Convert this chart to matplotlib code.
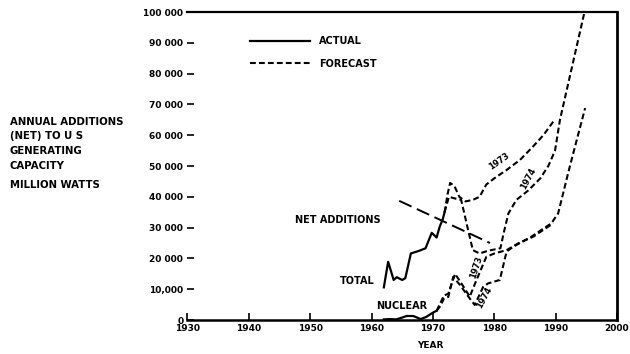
import matplotlib
matplotlib.use("Agg")
from matplotlib import pyplot as plt

# annual net additions, thousands of MW
actual_years = [1962.0, 1962.7, 1963.6, 1964.1, 1965.0, 1965.5, 1966.4, 1967.8, 1968.8,
                1969.8, 1970.6, 1971.1, 1971.6, 1971.9]
actual_total = [10.6, 18.9, 13.0, 13.9, 13.0, 13.6, 21.6, 22.5, 23.3,
                28.3, 26.8, 30.3, 32.7, 35.0]

nuc_years = [1962.0, 1963.0, 1964.0, 1965.0, 1965.7, 1966.8, 1968.0, 1968.9, 1970.0, 1970.6]
nuc_actual = [0.2, 0.3, 0.2, 0.8, 1.3, 1.3, 0.3, 1.0, 2.4, 3.0]

f73_years = [1971.9, 1972.4, 1972.8, 1973.5, 1974.3, 1975.3, 1976.5, 1977.6, 1978.7,
             1980.0, 1982.0, 1984.2, 1986.3, 1988.0, 1989.6]
f73_total = [35.0, 41.0, 44.5, 43.5, 40.0, 38.5, 39.0, 40.0, 44.0,
             46.0, 48.7, 52.0, 56.3, 60.0, 64.4]

f74_years = [1971.9, 1972.6, 1973.5, 1974.6, 1975.7, 1976.5, 1977.6, 1979.0, 1981.0,
             1981.5, 1982.3, 1983.6, 1985.5, 1987.5, 1988.8, 1989.9, 1990.7, 1992.3, 1994.7]
f74_total = [35.0, 40.0, 39.5, 39.0, 29.5, 22.7, 21.6, 22.5, 23.3,
             28.0, 34.6, 39.0, 42.0, 46.0, 50.0, 55.0, 65.0, 79.0, 100.0]

n73_years = [1970.6, 1971.2, 1971.8, 1972.5, 1973.6, 1974.6, 1976.0, 1977.1, 1978.7,
             1980.0, 1982.0, 1984.0, 1986.3, 1989.6]
n73_vals = [3.0, 5.5, 8.0, 8.5, 15.0, 12.0, 7.6, 13.0, 20.5,
            21.6, 22.7, 25.0, 27.0, 31.4]

n74_years = [1970.6, 1971.2, 1971.8, 1972.5, 1973.3, 1974.4, 1976.0, 1976.8, 1978.2,
             1979.0, 1980.9, 1982.0, 1983.1, 1986.0, 1989.3, 1990.4, 1992.3, 1994.8]
n74_vals = [3.0, 4.5, 7.0, 7.5, 14.0, 11.4, 7.0, 4.9, 10.8,
            11.9, 13.0, 22.2, 23.8, 27.0, 31.4, 34.6, 49.8, 68.8]

trend_years = [1964.5, 1979.3]
trend_vals = [38.7, 25.0]

xticks = [1930, 1940, 1950, 1960, 1970, 1980, 1990, 2000]
yticks = [0, 10, 20, 30, 40, 50, 60, 70, 80, 90, 100]
ylabels = ["0", "10,000", "20 000", "30 000", "40 000", "50 000",
           "60 000", "70 000", "80 000", "90 000", "100 000"]

plt.rcParams['font.family'] = ['DejaVu Sans']
plt.rcParams['font.weight'] = 'bold'

fig = plt.figure(figsize=(6.3, 3.54), dpi=100)
ax = fig.add_axes([0.2976, 0.096, 0.6818, 0.8701])

dash = (0, (2.8, 1.5))
ax.plot(actual_years, actual_total, color='black', lw=1.6, label='ACTUAL')
ax.plot(nuc_years, nuc_actual, color='black', lw=1.6)
ax.plot(f73_years, f73_total, color='black', lw=1.5, linestyle=dash, label='FORECAST')
ax.plot(f74_years, f74_total, color='black', lw=1.5, linestyle=dash)
ax.plot(n73_years, n73_vals, color='black', lw=1.5, linestyle=dash)
ax.plot(n74_years, n74_vals, color='black', lw=1.5, linestyle=dash)
ax.plot(trend_years, trend_vals, color='black', lw=1.4, linestyle=(0, (7, 3)))

ax.set_xlim(1930, 2000)
ax.set_ylim(0, 100)
ax.set_xticks(xticks)
ax.set_xticklabels([str(x) for x in xticks])
ax.set_yticks(yticks)
ax.set_yticklabels(ylabels)
ax.tick_params(axis='both', direction='in', length=5, width=1.2, labelsize=6.5, pad=3)
for lab in ax.get_xticklabels() + ax.get_yticklabels():
    lab.set_fontweight('bold')

ax.spines['left'].set_visible(False)
ax.spines['bottom'].set_linewidth(1.8)
ax.spines['right'].set_linewidth(2.0)
ax.spines['top'].set_linewidth(1.6)

ax.set_xlabel('YEAR', fontsize=6.5, fontweight='bold')
ax.xaxis.set_label_coords(0.565, -0.068)

txt = dict(fontsize=7, fontweight='bold', ha='center', va='center')
ax.text(1954.5, 32.5, 'NET ADDITIONS', **txt)
ax.text(1957.7, 12.7, 'TOTAL', **txt)
ax.text(1964.9, 4.6, 'NUCLEAR', **txt)

lab = dict(fontsize=6, fontweight='bold', ha='center', va='center')
ax.text(1980.8, 51.5, '1973', rotation=35, **lab)
ax.text(1985.6, 46.0, '1974', rotation=62, **lab)
ax.text(1977.0, 17.2, '1973', rotation=72, **lab)
ax.text(1978.3, 7.2, '1974', rotation=62, **lab)

ax.legend(loc='upper left', bbox_to_anchor=(0.125, 0.95), frameon=False,
          handlelength=6.2, handletextpad=0.9, labelspacing=1.3,
          prop={'size': 7, 'weight': 'bold'})

side = ["ANNUAL ADDITIONS", "(NET) TO U S", "GENERATING", "CAPACITY", "MILLION WATTS"]
side_y = [122, 136, 151, 166, 185]
for s, py in zip(side, side_y):
    fig.text(10 / 630, 1 - py / 354, s, fontsize=7.3, fontweight='bold', va='center', ha='left')

fig.savefig('out.png', dpi=100)
